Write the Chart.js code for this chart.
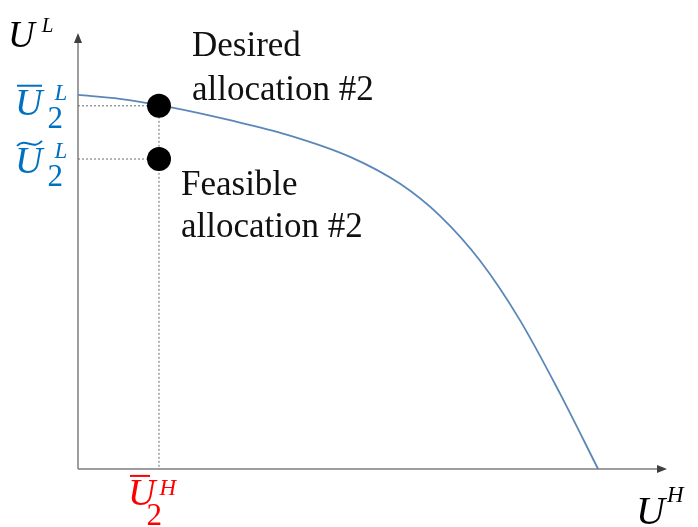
<!DOCTYPE html>
<html>
<head>
<meta charset="utf-8">
<script src="https://cdn.jsdelivr.net/npm/chart.js@4/dist/chart.umd.min.js"></script>
<style>
  html, body { margin: 0; padding: 0; background: #fff; }
  canvas { display: block; }
</style>
</head>
<body>
<canvas id="chart" width="698" height="527"></canvas>
<script>
// Utility possibility frontier (U^H on x, U^L on y)
const frontierX = [0, 7.1, 15.6, 25.8, 35.7, 46.2, 54.7, 61.5, 68.3, 75.0, 81.8, 88.3];
const frontierY = [85.8, 84.9, 83.0, 80.0, 76.6, 71.6, 65.4, 58.0, 47.7, 34.2, 17.4, 0];

// the two allocations
const allocNames = ["Desired allocation #2", "Feasible allocation #2"];
const allocX = [13.75, 13.75];
const allocY = [83.3, 71.1];

const labelFont = '"Liberation Serif", "DejaVu Serif", serif';
const mathFont = '"Liberation Serif", "DejaVu Serif", serif';

const frontier = frontierX.map((x, i) => ({ x, y: frontierY[i] }));
const allocs = allocX.map((x, i) => ({ x, y: allocY[i] }));

// dotted guides from the axes to the allocations
const guideStyle = {
    type: "line", borderColor: "#6b6b6b", borderWidth: 1, borderDash: [2, 2],
    pointRadius: 0, fill: false, tension: 0, order: 3
};
const guides = [
    [{ x: 0, y: allocY[0] }, { x: allocX[0], y: allocY[0] }, { x: allocX[0], y: 0 }],
    [{ x: 0, y: allocY[1] }, { x: allocX[1], y: allocY[1] }]
];

// U with accent, subscript and superscript
function drawMath(ctx, o) {
    ctx.save();
    ctx.fillStyle = o.color;
    ctx.strokeStyle = o.color;
    ctx.textBaseline = "alphabetic";
    ctx.font = `italic ${o.size}px ${mathFont}`;
    ctx.fillText("U", o.x, o.y);
    const w = ctx.measureText("U").width;
    const capTop = o.y - o.size * 0.66;
    if (o.accent === "bar") {
        ctx.lineWidth = 2;
        ctx.beginPath();
        ctx.moveTo(o.x + 2, capTop - 4);
        ctx.lineTo(o.x + 2 + o.accW, capTop - 4);
        ctx.stroke();
    } else if (o.accent === "tilde") {
        ctx.lineWidth = 2;
        ctx.beginPath();
        const x0 = o.x + 2, x1 = o.x + 2 + o.accW, yy = capTop - 5;
        ctx.moveTo(x0, yy + 3);
        ctx.bezierCurveTo(x0 + (x1 - x0) * 0.35, yy - 6, x0 + (x1 - x0) * 0.65, yy + 8, x1, yy - 2);
        ctx.stroke();
    }
    if (o.sup) {
        ctx.font = `italic ${o.supSize}px ${mathFont}`;
        ctx.fillText(o.sup, o.x + w + o.supDx, o.y + o.supDy);
    }
    if (o.sub) {
        ctx.font = `${o.subSize}px ${mathFont}`;
        ctx.fillText(o.sub, o.x + w + o.subDx, o.y + o.subDy);
    }
    ctx.restore();
}

function arrowHead(ctx, tx, ty, dir) {
    ctx.beginPath();
    if (dir === "up") {
        ctx.moveTo(tx, ty);
        ctx.lineTo(tx - 4, ty + 10);
        ctx.lineTo(tx + 4, ty + 10);
    } else {
        ctx.moveTo(tx, ty);
        ctx.lineTo(tx - 10, ty - 4);
        ctx.lineTo(tx - 10, ty + 4);
    }
    ctx.closePath();
    ctx.fill();
}

const axesPlugin = {
    id: "axesAndText",
    beforeDatasetsDraw(chart) {
        const { ctx, chartArea: a } = chart;
        ctx.save();
        ctx.strokeStyle = "#7f7f7f";
        ctx.fillStyle = "#3f3f3f";
        ctx.lineWidth = 1.5;
        ctx.beginPath();
        ctx.moveTo(a.left, a.bottom);
        ctx.lineTo(a.left, a.top + 6);
        ctx.moveTo(a.left, a.bottom);
        ctx.lineTo(a.right - 6, a.bottom);
        ctx.stroke();
        arrowHead(ctx, a.left, a.top, "up");
        arrowHead(ctx, a.right, a.bottom, "right");
        ctx.restore();
    },
    afterDraw(chart) {
        const { ctx, scales: { x, y } } = chart;
        const px = x.getPixelForValue(allocX[0]);
        const py0 = y.getPixelForValue(allocY[0]);
        const py1 = y.getPixelForValue(allocY[1]);

        // axis titles
        drawMath(ctx, { x: 8, y: 47, size: 37, color: "#000",
            sup: "L", supSize: 21, supDx: 7, supDy: -15 });
        drawMath(ctx, { x: 636, y: 524, size: 40, color: "#000",
            sup: "H", supSize: 23, supDx: 2, supDy: -22 });

        // value labels on the axes
        const blue = "#0070c0";
        const lab = { size: 38, sub: "2", subSize: 31, subDx: 5, subDy: 13, supSize: 23, supDx: 12, supDy: -15 };
        drawMath(ctx, { ...lab, x: 15, y: py0 + 9, color: blue, accent: "bar", accW: 25, sup: "L" });
        drawMath(ctx, { ...lab, x: 15, y: py1 + 14, color: blue, accent: "tilde", accW: 25, sup: "L" });
        drawMath(ctx, { ...lab, x: px - 31, y: 505, color: "#ff0000", accent: "bar", accW: 20,
            sup: "H", supDx: 4, supDy: -10, subDx: -9, subDy: 20 });

        // allocation notes
        ctx.save();
        ctx.fillStyle = "#111";
        ctx.font = `35px ${labelFont}`;
        ctx.textBaseline = "alphabetic";
        const [d1, d2] = [allocNames[0].slice(0, 7), allocNames[0].slice(8)];
        const [f1, f2] = [allocNames[1].slice(0, 8), allocNames[1].slice(9)];
        ctx.fillText(d1, px + 33, py0 - 50);
        ctx.fillText(d2, px + 33, py0 - 6);
        ctx.fillText(f1, px + 22, py1 + 36);
        ctx.fillText(f2, px + 22, py1 + 78);
        ctx.restore();
    }
};

new Chart(document.getElementById("chart"), {
    type: "scatter",
    data: {
        datasets: [
            ...guides.map((g) => ({ ...guideStyle, data: g })),
            {
                type: "line",
                data: frontier,
                borderColor: "#5b87b8",
                borderWidth: 1.8,
                pointRadius: 0,
                fill: false,
                cubicInterpolationMode: "monotone",
                order: 2
            },
            {
                data: allocs,
                pointRadius: 12,
                pointBackgroundColor: "#000",
                pointBorderColor: "#000",
                pointBorderWidth: 0,
                order: 1
            }
        ]
    },
    options: {
        responsive: false,
        devicePixelRatio: 1,
        animation: false,
        clip: false,
        layout: { padding: { left: 78, right: 31, top: 33, bottom: 58 } },
        plugins: { legend: { display: false }, tooltip: { enabled: false } },
        scales: {
            x: { type: "linear", min: 0, max: 100, display: false },
            y: { type: "linear", min: 0, max: 100, display: false }
        }
    },
    plugins: [axesPlugin]
});
</script>
</body>
</html>
